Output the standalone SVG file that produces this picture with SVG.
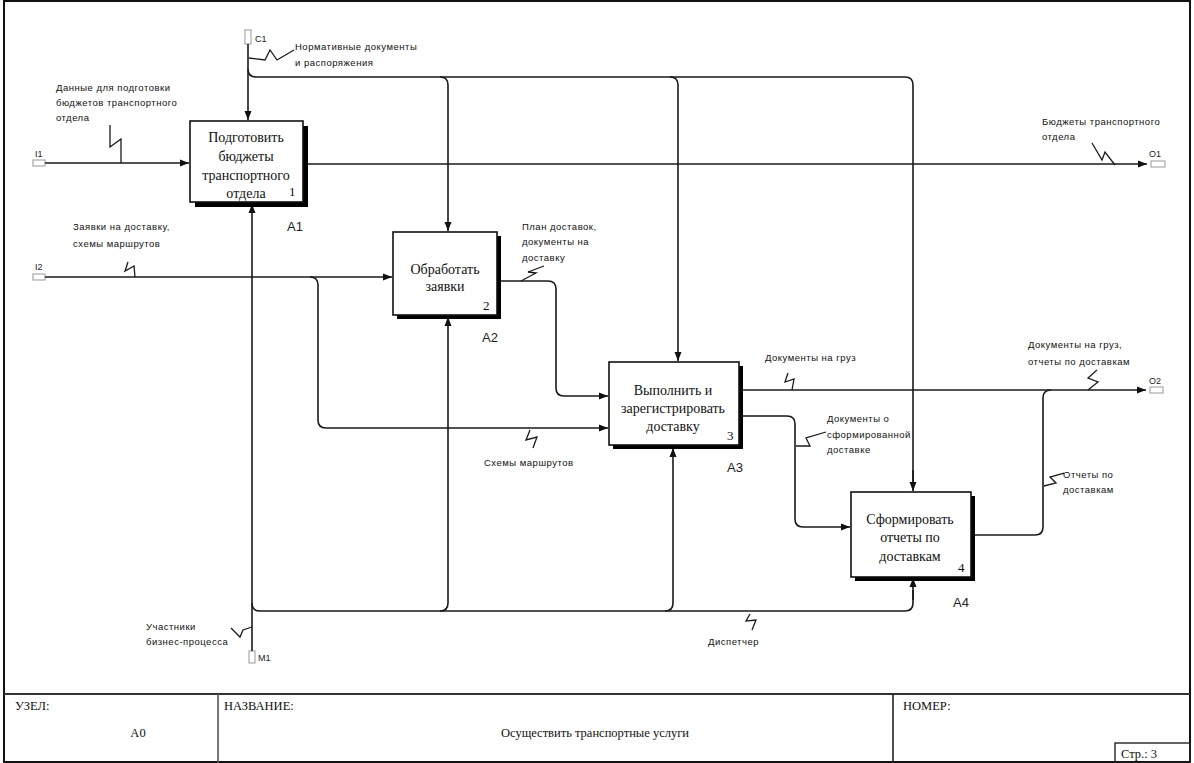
<svg xmlns="http://www.w3.org/2000/svg" width="1194" height="763" viewBox="0 0 1194 763">
<style>
.ln{fill:none;stroke:#1a1a1a;stroke-width:1.6}
.sq{fill:none;stroke:#1a1a1a;stroke-width:1.3}
.arr{marker-end:url(#ah)}
.box{fill:#fff;stroke:#111;stroke-width:1.6}
.sh{fill:#000}
.bt{font-family:"Liberation Serif",serif;font-size:14px;fill:#111;text-anchor:middle}
.num{font-family:"Liberation Serif",serif;font-size:13px;fill:#111}
.nid{font-family:"Liberation Sans",sans-serif;font-size:13px;fill:#222}
.lb{font-family:"Liberation Sans",sans-serif;font-size:9.5px;letter-spacing:0.5px;fill:#111}
.bm{font-family:"Liberation Sans",sans-serif;font-size:9px;fill:#222}
.mk{fill:#fff;stroke:#aaa;stroke-width:1.2}
.ft{font-family:"Liberation Serif",serif;font-size:12.5px;fill:#111}
</style>
<defs>
<marker id="ah" markerUnits="userSpaceOnUse" markerWidth="10" markerHeight="8" refX="9" refY="4" orient="auto">
<path d="M0,0.5 L9,4 L0,7.5 Z" fill="#111"/>
</marker>
</defs>
<rect x="0" y="0" width="1194" height="763" fill="#fff"/>
<g id="frame">
<rect x="4" y="1" width="1186" height="761" fill="none" stroke="#111" stroke-width="2"/>
<line x1="4" y1="694" x2="1190" y2="694" stroke="#333" stroke-width="2"/>
<line x1="218" y1="694" x2="218" y2="763" stroke="#555" stroke-width="1.6"/>
<line x1="893" y1="694" x2="893" y2="763" stroke="#222" stroke-width="1.6"/>
<rect x="1115" y="743" width="75" height="20" fill="none" stroke="#222" stroke-width="1.4"/>
<text class="ft" x="15" y="710">УЗЕЛ:</text>
<text class="ft" x="138" y="737" text-anchor="middle">A0</text>
<text class="ft" x="224" y="710">НАЗВАНИЕ:</text>
<text class="ft" x="595" y="737" text-anchor="middle">Осуществить транспортные услуги</text>
<text class="ft" x="903" y="710">НОМЕР:</text>
<text class="ft" x="1121" y="758" font-size="11.5px">Стр.:  3</text>
</g>
<g id="connectors">
<!-- C1 -->
<rect class="mk" x="245" y="30" width="6" height="14"/>
<text class="bm" x="255" y="42">C1</text>
<path class="ln arr" d="M248,44 V120"/>
<path class="ln" d="M248,69 Q248,77 256,77 H905 Q913,77 913,85 V488"/>
<path class="ln arr" d="M913,470 V491"/>
<path class="ln arr" d="M440,77 Q448,77 448,85 V231"/>
<path class="ln arr" d="M670,77 Q678,77 678,85 V361"/>
<path class="sq" d="M249,58 L265,60 L270,50 L277,60 L294,50"/>
<text class="lb" x="295" y="50">Нормативные документы</text>
<text class="lb" x="295" y="66">и распоряжения</text>
<!-- I1 -->
<rect class="mk" x="33" y="160" width="12" height="6"/>
<text class="bm" x="35" y="157">I1</text>
<path class="ln arr" d="M45,163 H189"/>
<path class="sq" d="M110,125 V147 L121,139 V163"/>
<text class="lb" x="56" y="91">Данные для подготовки</text>
<text class="lb" x="56" y="106">бюджетов транспортного</text>
<text class="lb" x="56" y="121">отдела</text>
<!-- O1 -->
<path class="ln arr" d="M303,164 H1147"/>
<rect class="mk" x="1151" y="161" width="14" height="6"/>
<text class="bm" x="1149" y="157">O1</text>
<path class="sq" d="M1092,143 L1102,160 L1105,152 L1115,165"/>
<text class="lb" x="1042" y="125">Бюджеты транспортного</text>
<text class="lb" x="1042" y="140">отдела</text>
<!-- I2 -->
<rect class="mk" x="33" y="274" width="12" height="6"/>
<text class="bm" x="35" y="270">I2</text>
<path class="ln arr" d="M45,277 H392"/>
<path class="sq" d="M128,262 L125,271 L134,266 L135,277"/>
<text class="lb" x="73" y="230">Заявки на доставку,</text>
<text class="lb" x="73" y="247">схемы маршрутов</text>
<path class="ln arr" d="M310,277 Q318,277 318,285 V420 Q318,428 326,428 H608"/>
<path class="sq" d="M530,430 L526,440 L537,437 L533,448"/>
<text class="lb" x="484" y="466">Схемы маршрутов</text>
<!-- A2 -> A3 -->
<path class="ln arr" d="M497,281 H548 Q556,281 556,289 V388 Q556,396 564,396 H608"/>
<path class="sq" d="M521,281 L536,273 L528,272 L544,266"/>
<text class="lb" x="522" y="230">План доставок,</text>
<text class="lb" x="522" y="245">документы на</text>
<text class="lb" x="522" y="261">доставку</text>
<!-- A3 outputs -->
<path class="ln arr" d="M742,390 H1146"/>
<rect class="mk" x="1150" y="387" width="13" height="6"/>
<text class="bm" x="1149" y="384">O2</text>
<path class="sq" d="M788,373 L785,382 L794,379 L792,390"/>
<text class="lb" x="765" y="361">Документы на груз</text>
<path class="ln arr" d="M742,416 H787 Q795,416 795,424 V519 Q795,527 803,527 H850"/>
<path class="sq" d="M796,446 L810,446 L806,438 L826,432"/>
<text class="lb" x="827" y="422">Документы о</text>
<text class="lb" x="827" y="438">сформированной</text>
<text class="lb" x="827" y="453">доставке</text>
<path class="sq" d="M1088,390 L1098,382 L1088,378 L1097,370"/>
<text class="lb" x="1028" y="348">Документы на груз,</text>
<text class="lb" x="1028" y="365">отчеты по доставкам</text>
<!-- A4 output -->
<path class="ln" d="M970,535 H1035 Q1043,535 1043,527 V398 Q1043,390 1051,390"/>
<path class="sq" d="M1044,486 L1056,483 L1050,477 L1064,473"/>
<text class="lb" x="1063" y="478">Отчеты по</text>
<text class="lb" x="1063" y="493">доставкам</text>
<!-- M1 -->
<rect class="mk" x="249" y="651" width="6" height="12"/>
<text class="bm" x="258" y="661">M1</text>
<path class="ln arr" d="M252,651 V204"/>
<path class="ln" d="M252,603 Q252,611 260,611 H905 Q913,611 913,603 V590"/>
<path class="ln arr" d="M913,600 V578"/>
<path class="ln arr" d="M440,611 Q448,611 448,603 V317"/>
<path class="ln arr" d="M665,611 Q673,611 673,603 V448"/>
<path class="sq" d="M231,628 L240,637 L243,630 L252,627"/>
<text class="lb" x="146" y="630">Участники</text>
<text class="lb" x="146" y="645">бизнес-процесса</text>
<path class="sq" d="M750,614 L746,621 L756,620 L752,630"/>
<text class="lb" x="708" y="645">Диспетчер</text>
</g>
<g id="A1">
<rect class="sh" x="195" y="126" width="113" height="81"/>
<rect class="box" x="190" y="121" width="113" height="81"/>
<text class="bt" x="246" y="142">Подготовить</text>
<text class="bt" x="246" y="161">бюджеты</text>
<text class="bt" x="246" y="180">транспортного</text>
<text class="bt" x="246" y="198">отдела</text>
<text class="num" x="289" y="196">1</text>
<text class="nid" x="287" y="231">A1</text>
</g>
<g id="A2">
<rect class="sh" x="397" y="236" width="104" height="83"/>
<rect class="box" x="393" y="232" width="104" height="83"/>
<text class="bt" x="445" y="274">Обработать</text>
<text class="bt" x="445" y="291">заявки</text>
<text class="num" x="483" y="310">2</text>
<text class="nid" x="482" y="342">A2</text>
</g>
<g id="A3">
<rect class="sh" x="613" y="366" width="130" height="83"/>
<rect class="box" x="609" y="362" width="130" height="83"/>
<text class="bt" x="673" y="395">Выполнить и</text>
<text class="bt" x="673" y="413">зарегистрировать</text>
<text class="bt" x="673" y="431">доставку</text>
<text class="num" x="727" y="440">3</text>
<text class="nid" x="727" y="472">A3</text>
</g>
<g id="A4">
<rect class="sh" x="855" y="496" width="120" height="85"/>
<rect class="box" x="851" y="492" width="120" height="85"/>
<text class="bt" x="910" y="524">Сформировать</text>
<text class="bt" x="910" y="542">отчеты по</text>
<text class="bt" x="910" y="561">доставкам</text>
<text class="num" x="958" y="572">4</text>
<text class="nid" x="953" y="607">A4</text>
</g>
</svg>
